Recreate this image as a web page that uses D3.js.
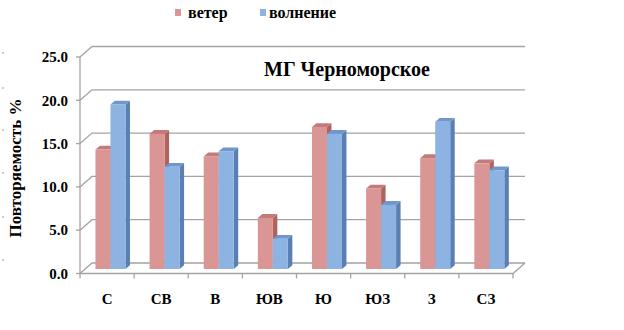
<!DOCTYPE html>
<html>
<head>
<meta charset="utf-8">
<script src="https://cdn.jsdelivr.net/npm/d3@7"></script>
</head>
<body style="margin:0">
<svg id="s" width="624" height="330"></svg>
<script>
// Wind and wave direction frequency, station Chernomorskoe
const categories = ["С", "СВ", "В", "ЮВ", "Ю", "ЮЗ", "З", "СЗ"];
const seriesNames = ["ветер", "волнение"];
const windValues = [13.8, 15.6, 13.0, 5.9, 16.4, 9.3, 12.8, 12.2];
const waveValues = [19.0, 11.8, 13.6, 3.5, 15.6, 7.4, 17.0, 11.4];
const yTicks = [0, 5, 10, 15, 20, 25];
const chartTitle = "МГ Черноморское";
const yTitle = "Повторяемость %";

const seriesValues = [windValues, waveValues];
const frontColors = ["#d99694", "#8db3e2"];
const topColors   = ["#c47a78", "#7097cc"];
const sideColors  = ["#b0625f", "#5a7fb3"];
const faces = ["Liberation Serif"];
const face = () => faces[0];

const svg = d3.select("#s");

// Front plane geometry and wall depth
const x0 = 80, x1 = 513;
const y = d3.scaleLinear().domain([0, 25]).range([273.5, 57]);
const depth = { dx: 12, dy: -10.5 };
const gridColor = "#a3a3a3";

const x = d3.scaleBand().domain(categories).range([x0, x1]).padding(0);
const xs = d3.scaleBand().domain(seriesNames).range([0, 30]).padding(0);

// Walls: side wall + back wall gridlines
const grid = svg.append("g").attr("fill", "none").attr("stroke", gridColor).attr("stroke-width", 1.3);
yTicks.forEach(t => {
  const yf = y(t), yb = y(t) + depth.dy;
  grid.append("path").attr("d", `M${x0},${yf}L${x0 + depth.dx},${yb}L${x1 + depth.dx},${yb}`);
});
// Floor front and right edges
grid.append("path").attr("d",
  `M${x0},${y(0)}L${x1},${y(0)}L${x1 + depth.dx},${y(0) + depth.dy}`);
// Vertical axis line
grid.append("line").attr("x1", x0).attr("x2", x0).attr("y1", y(25)).attr("y2", y(0));

// Y tick marks
svg.append("g").selectAll("line").data(yTicks).join("line")
  .attr("x1", x0 - 4).attr("x2", x0).attr("y1", d => y(d)).attr("y2", d => y(d))
  .attr("stroke", gridColor).attr("stroke-width", 1.3);
// Y tick labels
svg.append("g").selectAll("text").data(yTicks).join("text")
  .attr("x", x0 - 12).attr("y", d => y(d)).attr("dy", "0.35em")
  .attr("text-anchor", "end")
  .attr("font-family", face).attr("font-weight", "bold").attr("font-size", 15)
  .text(d => d3.format(".1f")(d));

// Category boundary ticks on the floor edge
const boundaries = categories.map(c => x(c)).concat([x1]);
svg.append("g").selectAll("line").data(boundaries).join("line")
  .attr("x1", d => d).attr("x2", d => d)
  .attr("y1", y(0)).attr("y2", y(0) + 5)
  .attr("stroke", gridColor).attr("stroke-width", 1.3);
// Category labels
svg.append("g").selectAll("text").data(categories).join("text")
  .attr("x", d => x(d) + x.bandwidth() / 2).attr("y", y(0) + 30)
  .attr("text-anchor", "middle")
  .attr("font-family", face).attr("font-weight", "bold").attr("font-size", 15)
  .text(d => d);

// 3D bars, placed part way into the floor depth
const barDepthFrac = 0.43;
const shiftX = depth.dx * barDepthFrac, shiftY = depth.dy * barDepthFrac;
const groupOffset = 10.3;
const bw = xs.bandwidth();
const bd = { dx: 4.5, dy: -3.8 };

const bars = svg.append("g");
categories.forEach((c, i) => {
  seriesNames.forEach((s, k) => {
    const v = seriesValues[k][i];
    const left = x(c) + shiftX + groupOffset + xs(s);
    const right = left + bw;
    const top = y(v) + shiftY;
    const bottom = y(0) + shiftY;
    const g = bars.append("g");
    // right side face
    g.append("path").attr("fill", sideColors[k])
      .attr("d", `M${right},${bottom}L${right},${top}L${right + bd.dx},${top + bd.dy}L${right + bd.dx},${bottom + bd.dy}Z`);
    // top face
    g.append("path").attr("fill", topColors[k])
      .attr("d", `M${left},${top}L${left + bd.dx},${top + bd.dy}L${right + bd.dx},${top + bd.dy}L${right},${top}Z`);
    // front face
    g.append("rect").attr("fill", frontColors[k])
      .attr("x", left).attr("y", top).attr("width", bw).attr("height", bottom - top);
  });
});

// Chart title and axis title
const titles = [
  { text: chartTitle, size: 20, transform: "translate(264,76)", anchor: "start" },
  { text: yTitle, size: 17, transform: "translate(21,168) rotate(-90)", anchor: "middle" }
];
svg.append("g").selectAll("text").data(titles).join("text")
  .attr("transform", d => d.transform).attr("text-anchor", d => d.anchor)
  .attr("font-family", face).attr("font-weight", "bold").attr("font-size", d => d.size)
  .text(d => d.text);

// Legend
const legendItems = [
  { name: seriesNames[0], color: frontColors[0], sx: 175, tx: 188 },
  { name: seriesNames[1], color: frontColors[1], sx: 260, tx: 269 }
];
const lg = svg.append("g");
lg.selectAll("rect").data(legendItems).join("rect")
  .attr("x", d => d.sx).attr("y", 9).attr("width", 6).attr("height", 7).attr("fill", d => d.color);
lg.selectAll("text").data(legendItems).join("text")
  .attr("x", d => d.tx).attr("y", 18)
  .attr("font-family", face).attr("font-weight", "bold").attr("font-size", 16)
  .text(d => d.name);

// Small marks along the left edge
const edgeMarks = [53, 88, 130, 173, 217, 260];
svg.append("g").selectAll("line").data(edgeMarks).join("line")
  .attr("x1", 2).attr("x2", 4).attr("y1", d => d).attr("y2", d => d)
  .attr("stroke", "#9a9a9a").attr("stroke-width", 1);
</script>
</body>
</html>
